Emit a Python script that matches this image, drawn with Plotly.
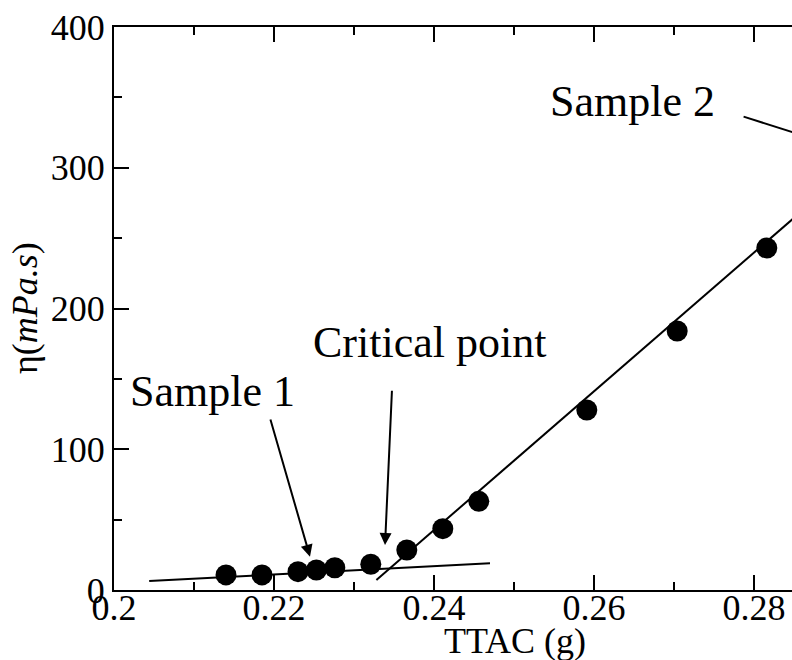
import plotly.graph_objects as go

# Data
ttac = [0.2140, 0.2185, 0.2230, 0.2253, 0.2276, 0.2321, 0.2366, 0.2411, 0.2456, 0.2591, 0.2704, 0.2816]
eta = [10.7, 10.7, 13.0, 14.2, 15.8, 18.3, 28.4, 43.6, 63.0, 127.9, 184.0, 243.0]

fit1_x = [0.2044, 0.2470]
fit1_y = [6.4, 19.0]
fit2_x = [0.2328, 0.2900]
fit2_y = [7.1, 289.0]

sample2_x = [0.2787, 0.2900]
sample2_y = [336.3, 316.0]

xticks = [0.20, 0.22, 0.24, 0.26, 0.28]
xticklabels = ["0.2", "0.22", "0.24", "0.26", "0.28"]
yticks = [0, 100, 200, 300, 400]
yticklabels = ["0", "100", "200", "300", "400"]

FONT = "Liberation Serif"

fig = go.Figure()
fig.add_trace(go.Scatter(x=fit1_x, y=fit1_y, mode="lines", line=dict(color="black", width=2), showlegend=False))
fig.add_trace(go.Scatter(x=fit2_x, y=fit2_y, mode="lines", line=dict(color="black", width=2), showlegend=False))
fig.add_trace(go.Scatter(x=sample2_x, y=sample2_y, mode="lines", line=dict(color="black", width=2), showlegend=False))
fig.add_trace(go.Scatter(x=ttac, y=eta, mode="markers",
                         marker=dict(color="black", size=21, line=dict(width=0)),
                         showlegend=False, cliponaxis=True))

# text labels with arrows
labels = [
    dict(text="Sample 1", x=0.21225, y=140.7),
    dict(text="Critical point", x=0.23938, y=175.5),
    dict(text="Sample 2", x=0.26475, y=347.4),
]
for lb in labels:
    fig.add_annotation(x=lb["x"], y=lb["y"], xref="x", yref="y", text=lb["text"], showarrow=False,
                       font=dict(family=FONT, size=44, color="black"), xanchor="center", yanchor="middle")

arrows = [
    dict(tx=0.2195, ty=122.2, hx=0.2245, hy=23.7),
    dict(tx=0.23475, ty=142.6, hx=0.23388, hy=32.0),
]
for a in arrows:
    fig.add_annotation(x=a["hx"], y=a["hy"], ax=a["tx"], ay=a["ty"], xref="x", yref="y", axref="x", ayref="y",
                       text="", showarrow=True, arrowhead=2, arrowsize=1.2, arrowwidth=2, arrowcolor="black")

# axis titles
fig.add_annotation(x=0.2501, y=-0.0906, xref="x", yref="paper", text="TTAC (g)", showarrow=False,
                   font=dict(family=FONT, size=36, color="black"), xanchor="center", yanchor="middle")
fig.add_annotation(x=-0.132, y=0.5, xref="paper", yref="paper", text="η(<i>mPa.s</i>)", showarrow=False,
                   textangle=-90, font=dict(family=FONT, size=36, color="black"), xanchor="center", yanchor="middle")

fig.update_xaxes(range=[0.2, 0.28475], tickvals=xticks, ticktext=xticklabels, automargin=False,
                 ticks="inside", ticklen=15, tickwidth=2, tickcolor="black", ticklabelstandoff=-15,
                 minor=dict(dtick=0.01, tick0=0.2, ticks="inside", ticklen=8, tickwidth=2, tickcolor="black", showgrid=False),
                 showline=True, linewidth=2, linecolor="black", mirror="ticks",
                 showgrid=False, zeroline=False,
                 tickfont=dict(family=FONT, size=36, color="black"))
fig.update_yaxes(range=[0, 400], tickvals=yticks, ticktext=yticklabels, automargin=False,
                 ticks="inside", ticklen=15, tickwidth=2, tickcolor="black",
                 minor=dict(dtick=50, tick0=0, ticks="inside", ticklen=8, tickwidth=2, tickcolor="black", showgrid=False),
                 showline=True, linewidth=2, linecolor="black", mirror=False,
                 showgrid=False, zeroline=False,
                 tickfont=dict(family=FONT, size=36, color="black"))

fig.update_layout(width=792, height=660, margin=dict(l=114, r=0, t=27, b=70),
                  plot_bgcolor="white", paper_bgcolor="white", showlegend=False,
                  font=dict(family=FONT, color="black"))

fig.write_html("out.html", config={"displayModeBar": False},
               post_script="document.body.style.margin='0';document.body.style.overflow='hidden';")
